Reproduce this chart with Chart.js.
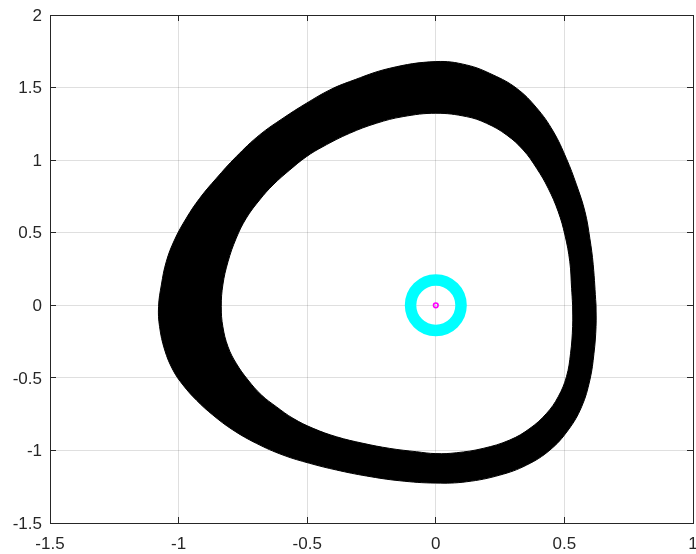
<!DOCTYPE html>
<html>
<head>
<meta charset="utf-8">
<script src="https://cdn.jsdelivr.net/npm/chart.js@4/dist/chart.umd.min.js"></script>
<style>
  html, body { margin: 0; padding: 0; background: #ffffff; }
  #wrap { width: 696px; height: 554px; }
</style>
</head>
<body>
<div id="wrap"><canvas id="c" width="696" height="554"></canvas></div>
<script>
// Outer edge of the trajectory band, counter-clockwise from the rightmost point
const outerX = [0.623, 0.612, 0.599, 0.580, 0.547, 0.508, 0.456, 0.392, 0.314, 0.223, 0.119, 0.000,
  -0.179, -0.335, -0.412, -0.503, -0.594, -0.685, -0.776, -0.853, -0.918, -0.970, -1.016, -1.048,
  -1.067, -1.078, -1.074, -1.054, -1.022, -0.983, -0.931, -0.867, -0.789, -0.698, -0.594, -0.490,
  -0.386, -0.270, -0.140, 0.000, 0.119, 0.249, 0.353, 0.444, 0.515, 0.567, 0.599, 0.615, 0.623];
const outerY = [0.000, 0.280, 0.460, 0.645, 0.830, 1.010, 1.200, 1.360, 1.495, 1.587, 1.656, 1.679,
  1.633, 1.541, 1.484, 1.392, 1.289, 1.174, 1.024, 0.875, 0.737, 0.600, 0.450, 0.300,
  0.140, -0.010, -0.147, -0.308, -0.446, -0.549, -0.653, -0.756, -0.859, -0.951, -1.032, -1.089,
  -1.135, -1.176, -1.209, -1.225, -1.216, -1.170, -1.101, -0.997, -0.859, -0.699, -0.515, -0.331, -0.147];

// Inner edge of the band, same direction
const innerX = [0.532, 0.528, 0.521, 0.502, 0.476, 0.437, 0.392, 0.340, 0.275, 0.197, 0.119, 0.000,
  -0.127, -0.231, -0.335, -0.439, -0.503, -0.568, -0.633, -0.685, -0.737, -0.776, -0.808, -0.828,
  -0.834, -0.828, -0.808, -0.776, -0.730, -0.678, -0.620, -0.555, -0.477, -0.386, -0.283, -0.179,
  -0.075, 0.000, 0.080, 0.184, 0.288, 0.366, 0.431, 0.476, 0.508, 0.524, 0.532];
const innerY = [0.000, 0.117, 0.300, 0.485, 0.645, 0.806, 0.944, 1.070, 1.174, 1.254, 1.300, 1.323,
  1.300, 1.254, 1.185, 1.093, 1.024, 0.932, 0.829, 0.726, 0.600, 0.462, 0.300, 0.140,
  -0.010, -0.147, -0.285, -0.400, -0.515, -0.618, -0.699, -0.779, -0.848, -0.906, -0.951, -0.986,
  -1.009, -1.022, -1.016, -0.986, -0.928, -0.848, -0.744, -0.630, -0.492, -0.331, -0.147];

// Equilibrium marker and its surrounding ring
const equilibriumX = [0];
const equilibriumY = [0];

// Axis ticks
const xTickValues = [-1.5, -1, -0.5, 0, 0.5, 1];
const yTickValues = [-1.5, -1, -0.5, 0, 0.5, 1, 1.5, 2];

const toPoints = (xs, ys) => xs.map((x, i) => ({ x: x, y: ys[i] }));

// Band outline: outer loop, a seam to the inner loop, inner loop walked backwards.
// Seam points are doubled so the spline stays straight across the seam;
// the opposite winding of the inner loop leaves the middle unfilled.
const outerPts = toPoints(outerX, outerY);
const innerPts = toPoints(innerX, innerY);
const bandPts = [
  ...outerPts,
  outerPts[0], outerPts[0],
  innerPts[0], innerPts[0],
  ...innerPts.slice(1).reverse(),
  innerPts[0]
];

const INK = '#262626';
const GRID = 'rgba(38,38,38,0.15)';

Chart.defaults.font.family = '"Liberation Sans", Arial, Helvetica, sans-serif';
Chart.defaults.font.size = 17;
Chart.defaults.color = INK;

function fixedTicks(values) {
  return function (scale) {
    scale.ticks = values.map(v => ({ value: v }));
  };
}

function axis(position, values, min, max, showLabels, grid, size, padding, labelOffset) {
  const horizontal = position === 'top' || position === 'bottom';
  return {
    type: 'linear',
    position: position,
    min: min,
    max: max,
    afterBuildTicks: fixedTicks(values),
    afterFit: function (scale) {
      if (horizontal) scale.height = size; else scale.width = size;
      // labels may overhang the plot box; keep the box itself fixed
      scale.paddingTop = 0;
      scale.paddingBottom = 0;
      scale.paddingLeft = 0;
      scale.paddingRight = 0;
    },
    border: { display: true, color: INK, width: 1 },
    grid: {
      display: true,
      drawOnChartArea: grid,
      color: GRID,
      lineWidth: 1,
      drawTicks: true,
      tickLength: -6,
      tickColor: INK,
      tickWidth: 1
    },
    ticks: {
      display: showLabels,
      padding: padding,
      labelOffset: labelOffset || 0,
      maxRotation: 0,
      autoSkip: false,
      color: INK,
      callback: v => String(v)
    }
  };
}

new Chart(document.getElementById('c'), {
  type: 'scatter',
  data: {
    datasets: [
      {
        data: toPoints(equilibriumX, equilibriumY),
        order: 1,
        pointStyle: 'circle',
        pointRadius: 2.3,
        pointBorderWidth: 1.6,
        pointBorderColor: '#ff00ff',
        pointBackgroundColor: 'rgba(0,0,0,0)',
        showLine: false
      },
      {
        data: toPoints(equilibriumX, equilibriumY),
        order: 2,
        pointStyle: 'circle',
        pointRadius: 25.25,
        pointBorderWidth: 11.5,
        pointBorderColor: '#00ffff',
        pointBackgroundColor: 'rgba(0,0,0,0)',
        showLine: false
      },
      {
        data: bandPts,
        order: 3,
        showLine: true,
        tension: 0.4,
        pointRadius: 0,
        borderColor: '#000000',
        borderWidth: 1,
        backgroundColor: '#000000',
        fill: 'shape'
      }
    ]
  },
  options: {
    responsive: false,
    animation: false,
    events: [],
    layout: { padding: 0, autoPadding: false },
    plugins: { legend: { display: false }, tooltip: { enabled: false } },
    scales: {
      x: axis('bottom', xTickValues, -1.5, 1, true, true, 31, 17, 0),
      y: axis('left', yTickValues, -1.5, 2, true, true, 50, 14, 1),
      x2: axis('top', xTickValues, -1.5, 1, false, false, 15, 0, 0),
      y2: axis('right', yTickValues, -1.5, 2, false, false, 3, 0, 0)
    }
  }
});
</script>
</body>
</html>
